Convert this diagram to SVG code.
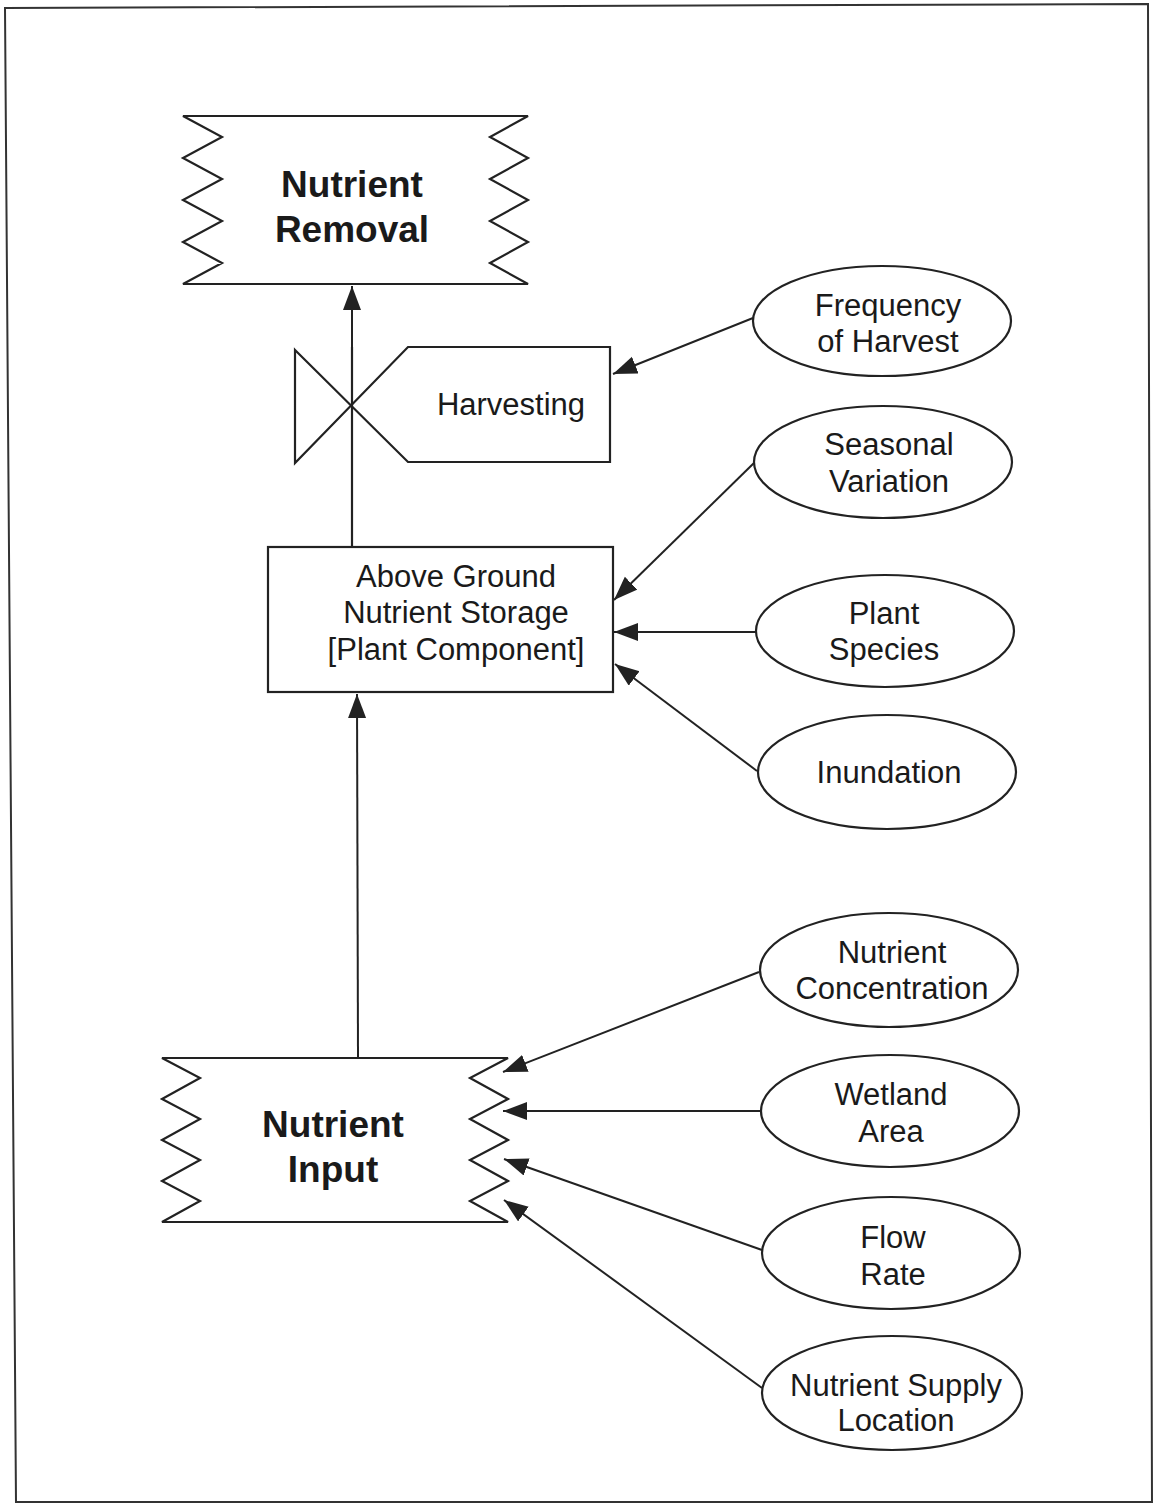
<svg xmlns="http://www.w3.org/2000/svg" width="1160" height="1507" viewBox="0 0 1160 1507">
<defs>
<marker id="arr" markerUnits="userSpaceOnUse" markerWidth="26" markerHeight="20" refX="24" refY="9" orient="auto">
<path d="M0,0 L24,9 L0,18 Z" fill="#222"/>
</marker>
<style>
.ln{fill:none;stroke:#222;stroke-width:2.2}
.shp{fill:#fff;stroke:#222;stroke-width:2.2;stroke-linejoin:miter}
.t{font-family:"Liberation Sans",Arial,sans-serif;font-size:31px;fill:#1a1a1a;text-anchor:middle}
.b{font-family:"Liberation Sans",Arial,sans-serif;font-size:37px;font-weight:bold;fill:#1a1a1a;text-anchor:middle}
.con{fill:none;stroke:#222;stroke-width:2;marker-end:url(#arr)}
</style>
</defs>
<rect width="1160" height="1507" fill="#fff"/>
<polygon points="5,8 1148,4 1152,1502 16,1502" fill="none" stroke="#333" stroke-width="2"/>

<g id="connectors">
<line class="con" x1="352" y1="547" x2="352" y2="286"/>
<line class="con" x1="358" y1="1057" x2="357" y2="694"/>
<line class="con" x1="753" y1="318" x2="613" y2="374"/>
<line class="con" x1="755" y1="462" x2="614" y2="600"/>
<line class="con" x1="756" y1="632" x2="614" y2="632"/>
<line class="con" x1="757" y1="771" x2="615" y2="664"/>
<line class="con" x1="759" y1="972" x2="503" y2="1072"/>
<line class="con" x1="761" y1="1111" x2="503" y2="1111"/>
<line class="con" x1="762" y1="1250" x2="504" y2="1159"/>
<line class="con" x1="762" y1="1388" x2="504" y2="1200"/>
</g>

<g id="nutrient-removal">
<path class="shp" d="M183,116 L528,116 L490,137 L528,158 L490,179 L528,200 L490,221 L528,242 L490,263 L528,284 L183,284 L222,263 L183,242 L222,221 L183,200 L222,179 L183,158 L222,137 Z"/>
<text class="b" x="352" y="197">Nutrient</text>
<text class="b" x="352" y="242">Removal</text>
</g>

<g id="harvesting">
<path class="shp" d="M295,350 L408,462 L610,462 L610,347 L408,347 L295,463 Z"/>
<line class="ln" x1="352" y1="347" x2="352" y2="547"/>
<text class="t" x="511" y="415">Harvesting</text>
</g>

<g id="above-ground">
<rect class="shp" x="268" y="547" width="345" height="145"/>
<text class="t" x="456" y="587">Above Ground</text>
<text class="t" x="456" y="623">Nutrient Storage</text>
<text class="t" x="456" y="660">[Plant Component]</text>
</g>

<g id="nutrient-input">
<path class="shp" d="M162,1058 L508,1058 L470,1078 L508,1099 L470,1119 L508,1140 L470,1160 L508,1181 L470,1201 L508,1222 L162,1222 L200,1201 L162,1181 L200,1160 L162,1140 L200,1119 L162,1099 L200,1078 Z"/>
<text class="b" x="333" y="1137">Nutrient</text>
<text class="b" x="333" y="1182">Input</text>
</g>

<g id="frequency-of-harvest">
<ellipse class="shp" cx="882" cy="321" rx="129" ry="55"/>
<text class="t" x="888" y="316">Frequency</text>
<text class="t" x="888" y="352">of Harvest</text>
</g>

<g id="seasonal-variation">
<ellipse class="shp" cx="883" cy="462" rx="129" ry="56"/>
<text class="t" x="889" y="455">Seasonal</text>
<text class="t" x="889" y="492">Variation</text>
</g>

<g id="plant-species">
<ellipse class="shp" cx="885" cy="631" rx="129" ry="56"/>
<text class="t" x="884" y="624">Plant</text>
<text class="t" x="884" y="660">Species</text>
</g>

<g id="inundation">
<ellipse class="shp" cx="887" cy="772" rx="129" ry="57"/>
<text class="t" x="889" y="783">Inundation</text>
</g>

<g id="nutrient-concentration">
<ellipse class="shp" cx="889" cy="970" rx="129" ry="57"/>
<text class="t" x="892" y="963">Nutrient</text>
<text class="t" x="892" y="999">Concentration</text>
</g>

<g id="wetland-area">
<ellipse class="shp" cx="890" cy="1111" rx="129" ry="56"/>
<text class="t" x="891" y="1105">Wetland</text>
<text class="t" x="891" y="1142">Area</text>
</g>

<g id="flow-rate">
<ellipse class="shp" cx="891" cy="1253" rx="129" ry="56"/>
<text class="t" x="893" y="1248">Flow</text>
<text class="t" x="893" y="1285">Rate</text>
</g>

<g id="nutrient-supply-location">
<ellipse class="shp" cx="892" cy="1393" rx="130" ry="57"/>
<text class="t" x="896" y="1396">Nutrient Supply</text>
<text class="t" x="896" y="1431">Location</text>
</g>
</svg>
